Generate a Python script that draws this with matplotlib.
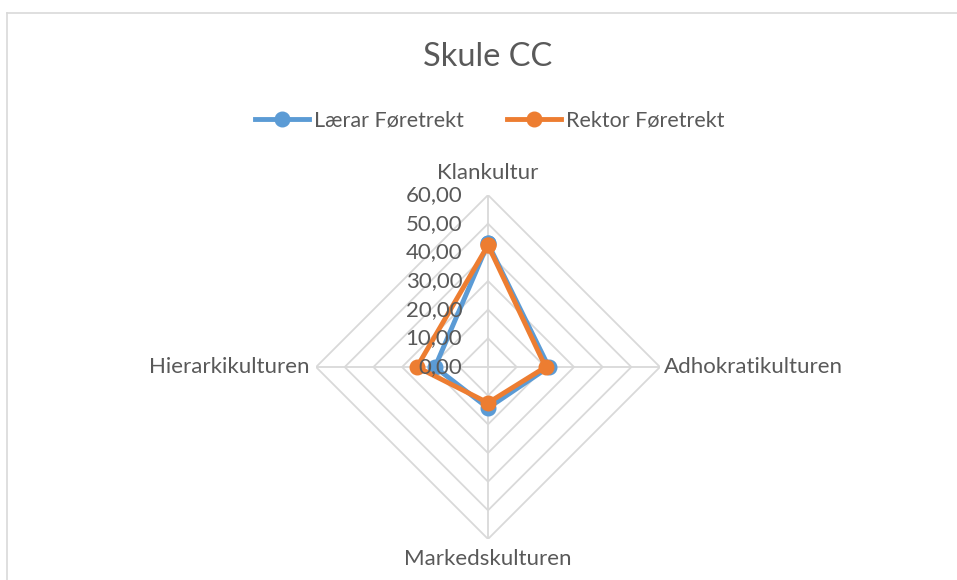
import numpy as np
import matplotlib.pyplot as plt
from matplotlib.lines import Line2D

plt.rcParams['font.family'] = ['Lato', 'DejaVu Sans']

categories = ['Klankultur', 'Adhokratikulturen', 'Markedskulturen', 'Hierarkikulturen']
laerar = [43.1, 21.2, 14.3, 18.5]
rektor = [42.5, 20.1, 12.5, 24.8]
rings = [10, 20, 30, 40, 50, 60]
ring_labels = ['0,00', '10,00', '20,00', '30,00', '40,00', '50,00', '60,00']

text_col = '#595959'
grid_col = '#d9d9d9'

fig = plt.figure(figsize=(9.57, 5.8), dpi=100)
ax = fig.add_axes([0.3302, 0.0707, 0.3595, 0.593], polar=True)
ax.set_theta_offset(np.pi / 2)
ax.set_theta_direction(-1)
ax.set_ylim(0, 60)

theta = np.linspace(0, 2 * np.pi, len(categories), endpoint=False)
theta_c = np.append(theta, theta[0])

# diamond-shaped grid
for r in rings:
    ax.plot(theta_c, [r] * (len(categories) + 1), color=grid_col, lw=1.3, zorder=1)
for t in theta:
    ax.plot([t, t], [0, 60], color=grid_col, lw=1.3, zorder=1)

ax.grid(False)
ax.spines['polar'].set_visible(False)
ax.set_xticks([])
ax.set_yticks([])

# radial value labels left of the top axis, drawn over the series
for v, lab in zip([0] + rings, ring_labels):
    ax.annotate(lab, xy=(0, v), xytext=(-18.5, 0), textcoords='offset points',
                ha='right', va='center', fontsize=16, color=text_col, zorder=5)

# category labels
offsets = [(0, 9, 'center', 'bottom'), (3, 0, 'left', 'center'),
           (0, -7, 'center', 'top'), (-5, 0, 'right', 'center')]
for t, name, (dx, dy, ha, va) in zip(theta, categories, offsets):
    ax.annotate(name, xy=(t, 60), xytext=(dx, dy), textcoords='offset points',
                ha=ha, va=va, fontsize=16, color=text_col, annotation_clip=False)

ax.plot(theta_c, laerar + laerar[:1], color='#5b9bd5', lw=3.5, marker='o',
        markersize=10.5, label='Lærar Føretrekt', zorder=3)
ax.plot(theta_c, rektor + rektor[:1], color='#ed7d31', lw=3.5, marker='o',
        markersize=10.5, label='Rektor Føretrekt', zorder=4)

fig.text(0.51, 0.902, 'Skule CC', ha='center', va='center', fontsize=23.5, color=text_col)
fig.legend(loc='center', bbox_to_anchor=(0.512, 0.793), ncol=2, frameon=False,
           fontsize=15.5, labelcolor=text_col, handlelength=2.5, handletextpad=0.25,
           columnspacing=2.0)

# chart frame (left and top edges visible)
fig.add_artist(Line2D([6.5 / 957, 6.5 / 957], [0, 1 - 12.5 / 580], color='#d9d9d9',
                      lw=1.2, transform=fig.transFigure))
fig.add_artist(Line2D([6.5 / 957, 1], [1 - 12.5 / 580, 1 - 12.5 / 580], color='#d9d9d9',
                      lw=1.2, transform=fig.transFigure))

fig.savefig('out.png', dpi=100)
